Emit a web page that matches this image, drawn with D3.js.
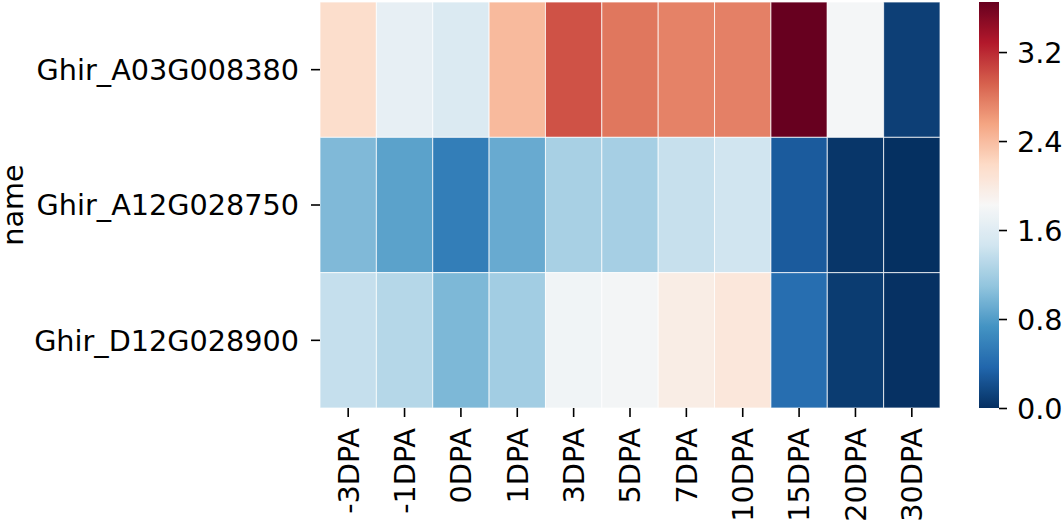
<!DOCTYPE html>
<html>
<head>
<meta charset="utf-8">
<script src="https://cdn.jsdelivr.net/npm/d3@7"></script>
<style>
  html, body { margin: 0; padding: 0; background: #fff; }
  svg text { font-family: "DejaVu Sans", sans-serif; fill: #000; }
</style>
</head>
<body>
<svg id="chart" width="1062" height="526"></svg>
<script>
// ---- data ----
const genes = ["Ghir_A03G008380", "Ghir_A12G028750", "Ghir_D12G028900"];
const stages = ["-3DPA", "-1DPA", "0DPA", "1DPA", "3DPA", "5DPA", "7DPA", "10DPA", "15DPA", "20DPA", "30DPA"];
const valuesA03 = [2.15, 1.67, 1.56, 2.41, 2.99, 2.80, 2.74, 2.75, 3.65, 1.80, 0.10];
const valuesA12 = [1.01, 0.84, 0.56, 0.90, 1.22, 1.21, 1.40, 1.46, 0.29, 0.04, 0.00];
const valuesD12 = [1.39, 1.30, 1.00, 1.19, 1.76, 1.79, 1.96, 2.04, 0.43, 0.08, 0.01];
const colorbarTicks = [0.0, 0.8, 1.6, 2.4, 3.2];
const yLabel = "name";

// matplotlib RdBu_r anchor colours (style)
const rdbuR = ["#053061", "#2166ac", "#4393c3", "#92c5de", "#d1e5f0", "#f7f7f7",
               "#fddbc7", "#f4a582", "#d6604d", "#b2182b", "#67001f"];

(function () {
const FS = 28.7;
const rowsData = [valuesA03, valuesA12, valuesD12];
const cells = [];
genes.forEach((g, i) => stages.forEach((s, j) => cells.push({ gene: g, stage: s, value: rowsData[i][j] })));

const allVals = cells.map(d => d.value);
const vmin = d3.min(allVals), vmax = d3.max(allVals);

const color = d3.scaleLinear()
  .domain(d3.range(11).map(k => vmin + (vmax - vmin) * k / 10))
  .range(rdbuR)
  .interpolate(d3.interpolateRgb)
  .clamp(true);

const svg = d3.select("#chart");
const pLeft = 320, pRight = 940, pTop = 2, pBottom = 408;

const x = d3.scaleBand().domain(stages).range([pLeft, pRight]).padding(0);
const y = d3.scaleBand().domain(genes).range([pTop, pBottom]).padding(0);

// cells
svg.append("g").selectAll("rect").data(cells).join("rect")
  .attr("x", d => x(d.stage))
  .attr("y", d => y(d.gene))
  .attr("width", x.bandwidth())
  .attr("height", y.bandwidth())
  .attr("fill", d => color(d.value))
  .attr("stroke", "#ffffff")
  .attr("stroke-opacity", 0.75)
  .attr("stroke-width", 1);

// bottom axis
const gx = svg.append("g").attr("transform", `translate(0,${pBottom})`)
  .call(d3.axisBottom(x).tickSize(9).tickPadding(0));
gx.select(".domain").remove();
gx.selectAll(".tick line").attr("stroke", "#000").attr("stroke-width", 1.6);
gx.selectAll(".tick text")
  .attr("font-size", FS)
  .attr("transform", "rotate(-90)")
  .attr("text-anchor", "end")
  .attr("x", -20)
  .attr("y", 0)
  .attr("dy", "0.36em");

// left axis
const gy = svg.append("g").attr("transform", `translate(${pLeft},0)`)
  .call(d3.axisLeft(y).tickSize(9).tickPadding(12));
gy.select(".domain").remove();
gy.selectAll(".tick line").attr("stroke", "#000").attr("stroke-width", 1.6);
gy.selectAll(".tick text").attr("font-size", FS).attr("dy", "0.36em");

// y label
svg.append("text")
  .attr("transform", `translate(23,${(pTop + pBottom) / 2}) rotate(-90)`)
  .attr("text-anchor", "middle")
  .attr("font-size", FS)
  .text(yLabel);

// colorbar
const cbX = 979, cbW = 20;
const cbScale = d3.scaleLinear().domain([vmin, vmax]).range([pBottom, pTop]);
const defs = svg.append("defs");
const grad = defs.append("linearGradient").attr("id", "cbgrad")
  .attr("x1", "0").attr("y1", "1").attr("x2", "0").attr("y2", "0");
d3.range(0, 101).forEach(k => {
  grad.append("stop")
    .attr("offset", `${k}%`)
    .attr("stop-color", color(vmin + (vmax - vmin) * k / 100));
});
svg.append("rect")
  .attr("x", cbX).attr("y", pTop)
  .attr("width", cbW).attr("height", pBottom - pTop)
  .attr("fill", "url(#cbgrad)");

const gc = svg.append("g").attr("transform", `translate(${cbX + cbW},0)`)
  .call(d3.axisRight(cbScale).tickValues(colorbarTicks).tickFormat(d3.format(".1f")).tickSize(8).tickPadding(10));
gc.select(".domain").remove();
gc.selectAll(".tick line").attr("stroke", "#000").attr("stroke-width", 1.6);
gc.selectAll(".tick text").attr("font-size", FS).attr("dy", "0.36em");
})();
</script>
</body>
</html>
